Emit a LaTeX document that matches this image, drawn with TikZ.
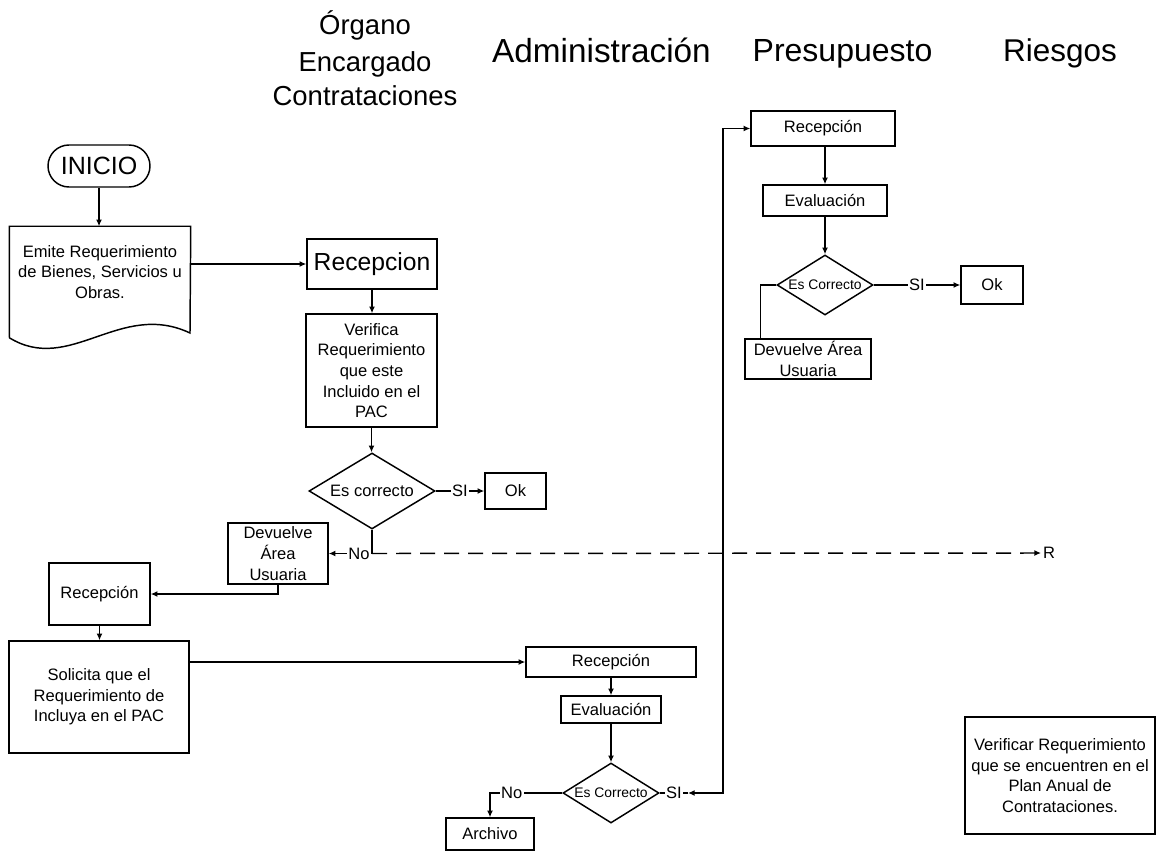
\documentclass[tikz,border=0pt]{standalone}
\usepackage{fontspec}
\setmainfont{Liberation Sans}
\usetikzlibrary{shapes.geometric,arrows.meta}
\begin{document}
\begin{tikzpicture}[x=0.75pt,y=-0.75pt,
  line width=1.1pt,
  >={Latex[length=5pt,width=4.5pt]},
  txt/.style={font=\fontsize{12.4}{15.5}\selectfont, align=center},
  box/.style={draw, txt, inner sep=0pt},
  dec/.style={draw, diamond, shape aspect=1.65, inner sep=0pt, txt},
  smalldec/.style={font=\fontsize{10.4}{12}\selectfont},
  arr/.style={->},
  lbl/.style={fill=white, inner sep=1pt, txt},
  head/.style={anchor=base, inner sep=0pt}
]
\useasboundingbox (0,0) rectangle (1156,852);

% column headings
\node[head, font=\fontsize{20.6}{24}\selectfont] (hoec1) at (365,35) {Órgano};
\node[head, font=\fontsize{20.6}{24}\selectfont] (hoec2) at (365,72) {Encargado};
\node[head, font=\fontsize{20.6}{24}\selectfont] (hoec3) at (365,106) {Contrataciones};
\node[head, font=\fontsize{25}{28}\selectfont] (hadm) at (601.5,63) {Administración};
\node[head, font=\fontsize{24}{28}\selectfont] (hpre) at (842.5,62) {Presupuesto};
\node[head, font=\fontsize{23.6}{28}\selectfont] (hrie) at (1060,62) {Riesgos};

% area usuaria
\node[box, minimum width=76.5pt, minimum height=31.5pt, rounded corners=15.75pt,
      font=\fontsize{18.75}{20}\selectfont] (inicio) at (99,166) {INICIO};
\node[minimum width=135pt, minimum height=82.5pt, inner sep=0pt] (emite) at (100,282) {};
\draw (emite.south west) -- (emite.north west) -- (emite.north east) -- (190,333)
      .. controls (120,300) and (70,375) .. (emite.south west);
\node[txt] (emitetxt) at (100,272) {Emite Requerimiento\\de Bienes, Servicios u\\Obras.};
\node[box, minimum width=75.75pt, minimum height=46.5pt] (recep2) at (99.5,594) {Recepción};
\node[box, minimum width=135pt, minimum height=84pt] (solic) at (99,697)
      {Solicita que el\\Requerimiento de\\Incluya en el PAC};

% organo encargado de contrataciones
\node[box, minimum width=97.5pt, minimum height=37.5pt, font=\fontsize{18.5}{20}\selectfont]
      (recep1) at (372,264) {Recepcion};
\node[box, minimum width=98.25pt, minimum height=84.75pt] (verif) at (371.5,370.5)
      {Verifica\\Requerimiento\\que este\\Incluido en el\\PAC};
\node[dec, minimum width=94.5pt, minimum height=57pt] (dec1) at (372,491) {Es correcto};
\node[box, minimum width=45.75pt, minimum height=27pt] (ok1) at (515.5,491) {Ok};
\node[box, minimum width=75pt, minimum height=45.75pt] (dev1) at (278,553.5) {Devuelve\\Área\\Usuaria};

% administracion
\node[box, minimum width=127.5pt, minimum height=22.5pt] (recep3) at (611,662) {Recepción};
\node[box, minimum width=75pt, minimum height=20.25pt] (eval3) at (611,709.5) {Evaluación};
\node[dec, smalldec, minimum width=72pt, minimum height=45pt] (dec3) at (611,793) {Es Correcto};
\node[box, minimum width=66pt, minimum height=24pt] (arch) at (490,834) {Archivo};

% presupuesto
\node[box, minimum width=108pt, minimum height=26.25pt] (recep4) at (823,128.5) {Recepción};
\node[box, minimum width=93pt, minimum height=23.25pt] (eval4) at (825,200.5) {Evaluación};
\node[dec, smalldec, minimum width=72pt, minimum height=45pt] (dec4) at (825,285) {Es Correcto};
\node[box, minimum width=46.5pt, minimum height=28.5pt] (ok4) at (992,285) {Ok};
\node[box, minimum width=94.5pt, minimum height=30pt] (dev4) at (808,359) {Devuelve Área\\Usuaria};

% riesgos
\node[box, minimum width=142.5pt, minimum height=87.75pt] (riesg) at (1060,775.5)
      {Verificar Requerimiento\\que se encuentren en el\\Plan Anual de\\Contrataciones.};

% connectors
\draw[arr] (inicio.south) -- (inicio.south |- emite.north);
\draw[arr] (emite.east |- recep1.west) -- (recep1.west);
\draw[arr] (recep1.south) -- (recep1.south |- verif.north);
\draw[arr] (verif.south) -- (verif.south |- dec1.north);
\draw[arr] (dec1.east) -- node[lbl]{SI} (ok1.west);
\coordinate (j1) at (dec1.south |- dev1.east);
\draw[arr] (dec1.south) -- (j1) -- node[lbl, pos=0.3]{No} (dev1.east);
\node[txt, anchor=west, inner sep=1pt] (rlab) at (1041,553) {R};
\draw[arr, dash pattern=on 11.25pt off 6.75pt] (j1) -- (rlab.west);
\draw[arr] (dev1.south) |- (recep2.east);
\draw[arr] (recep2.south) -- (recep2.south |- solic.north);
\draw[arr] (solic.east |- recep3.west) -- (recep3.west);
\draw[arr] (recep3.south) -- (eval3.north);
\draw[arr] (eval3.south) -- (dec3.north);
\draw[arr] (dec3.west) -- node[lbl, pos=0.7]{No} (arch.north |- dec3.west) -- (arch.north);
\coordinate (s3) at (688,793);
\coordinate (v3) at (723,793);
\draw (dec3.east) -- node[lbl]{SI} (s3);
\draw[<->] (s3) -- (v3) |- (recep4.west);
\draw[arr] (recep4.south -| eval4.north) -- (eval4.north);
\draw[arr] (eval4.south) -- (dec4.north);
\draw[arr] (dec4.east) -- node[lbl]{SI} (ok4.west);
\draw (dec4.west) -| ([xshift=12pt]dev4.north west);
\end{tikzpicture}
\end{document}
